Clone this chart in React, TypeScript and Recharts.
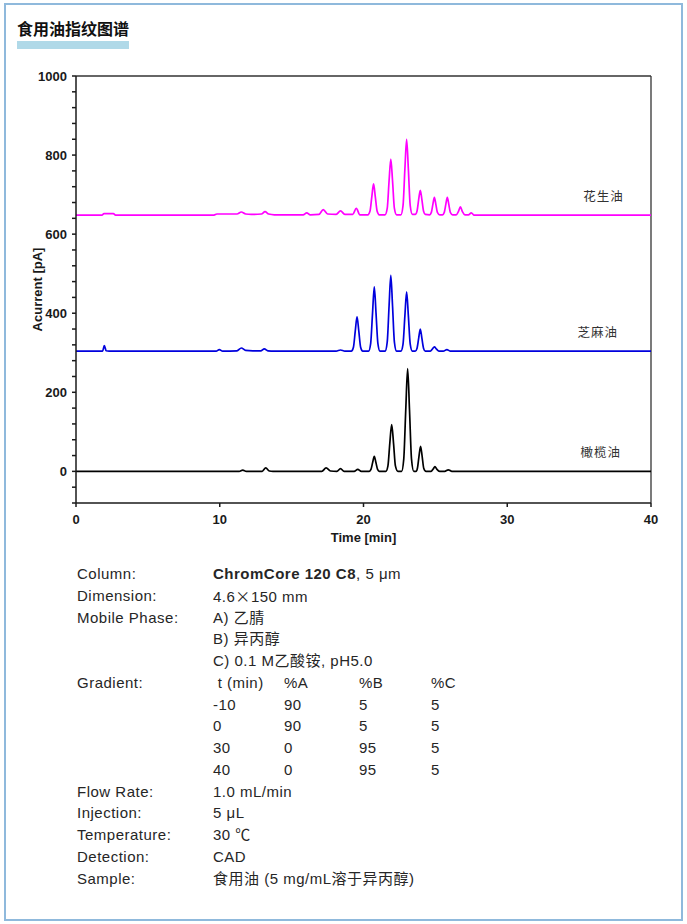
import React from 'react';
import { LineChart, Line, XAxis, YAxis, ReferenceLine, ReferenceDot } from 'recharts';

// ---- chromatogram data (time in min, signal in pA, offsets included as drawn) ----
const peanutTime = [0, 1.8, 1.95, 2.6, 2.75, 9.6, 9.8, 11.2, 11.5, 11.8, 12.2, 12.9, 13.15, 13.4, 13.8, 15.8, 16.05, 16.3, 16.9, 17.2, 17.5, 18.1, 18.4, 18.7, 19.25, 19.5, 19.75,
  20.3, 20.45, 20.58, 20.7, 20.82, 20.95, 21.1,
  21.5, 21.65, 21.78, 21.9, 22.02, 22.15, 22.3,
  22.6, 22.75, 22.88, 23.0, 23.12, 23.25, 23.4,
  23.6, 23.72, 23.84, 23.95, 24.06, 24.18, 24.3,
  24.6, 24.72, 24.83, 24.93, 25.03, 25.14, 25.3,
  25.5, 25.62, 25.73, 25.83, 25.93, 26.04, 26.2,
  26.45, 26.6, 26.74, 26.88, 27.05,
  27.3, 27.5, 27.7, 40];
const peanutSignal = [648, 648, 652, 652, 648, 648, 651, 651, 656, 651, 650, 651, 657, 651, 649, 649, 654, 649, 650, 662, 651, 650, 659, 650, 650, 665, 649,
  649, 658, 695, 727, 695, 658, 649,
  649, 665, 735, 790, 735, 665, 649,
  649, 672, 765, 840, 765, 672, 650,
  650, 658, 688, 711, 688, 658, 650,
  649, 655, 676, 693, 676, 655, 649,
  649, 655, 676, 693, 676, 655, 649,
  649, 657, 669, 657, 649,
  649, 654, 648, 648];

const sesameTime = [0, 1.85, 1.97, 2.1, 2.3, 9.75, 9.97, 10.2, 11.2, 11.5, 11.8, 12.3, 12.85, 13.1, 13.35, 13.8, 18.1, 18.4, 18.7,
  19.15, 19.3, 19.43, 19.55, 19.67, 19.8, 19.95,
  20.35, 20.5, 20.63, 20.75, 20.87, 21.0, 21.15,
  21.5, 21.65, 21.78, 21.9, 22.02, 22.15, 22.3,
  22.6, 22.75, 22.88, 23.0, 23.12, 23.25, 23.4,
  23.6, 23.72, 23.84, 23.95, 24.06, 24.18, 24.3,
  24.65, 24.8, 24.93, 25.06, 25.25,
  25.55, 25.8, 26.05, 40];
const sesameSignal = [304, 304, 318, 305, 304, 304, 308, 304, 305, 312, 306, 305, 305, 310, 305, 304, 304, 307, 304,
  304, 314, 356, 391, 356, 314, 304,
  304, 324, 401, 467, 401, 324, 304,
  304, 327, 419, 496, 419, 327, 304,
  304, 322, 394, 454, 394, 322, 304,
  304, 311, 337, 360, 337, 311, 304,
  304, 310, 315, 310, 304,
  304, 308, 304, 304];

const oliveTime = [0, 11.35, 11.6, 11.85, 12.95, 13.2, 13.45, 13.7, 17.1, 17.4, 17.7, 18.15, 18.4, 18.65, 19.35, 19.6, 19.85,
  20.4, 20.52, 20.64, 20.75, 20.86, 20.98, 21.1,
  21.55, 21.7, 21.83, 21.96, 22.09, 22.22, 22.4,
  22.65, 22.8, 22.94, 23.07, 23.2, 23.34, 23.5,
  23.65, 23.75, 23.86, 23.97, 24.08, 24.19, 24.35,
  24.7, 24.85, 24.97, 25.09, 25.3,
  25.65, 25.9, 26.15, 40];
const oliveSignal = [0, 0, 3, 0, 0, 9, 1, 0, 0, 9, 1, 0, 7, 0, 0, 5, 0,
  0, 5, 23, 38, 23, 5, 0,
  0, 14, 71, 118, 71, 14, 0,
  0, 31, 156, 260, 156, 31, 0,
  0, 8, 38, 63, 38, 8, 0,
  0, 6, 12, 6, 0,
  0, 4, 0, 0];

// series names and label anchor positions (data units)
const seriesNames = ['花生油', '芝麻油', '橄榄油'];
const seriesColors = ['#ff00ff', '#0000dd', '#000000'];
const seriesLabelTime = [36.7, 36.3, 36.5];
const seriesLabelSignal = [694, 352, 48];

// axes
const xTicks = [0, 10, 20, 30, 40];
const yMajorTicks = [0, 200, 400, 600, 800, 1000];
const yTicks = [-80, -40, 0, 40, 80, 120, 160, 200, 240, 280, 320, 360, 400, 440, 480, 520, 560, 600, 640, 680, 720, 760, 800, 840, 880, 920, 960, 1000];
const xDomain = [0, 40];
const yDomain = [-80, 1000];

// text
const pageTitle = '食用油指纹图谱';
const xTitle = 'Time [min]';
const yTitle = 'Acurrent [pA]';
const paramLabels = ['Column:', 'Dimension:', 'Mobile Phase:', '', '', 'Gradient:', '', '', '', '', 'Flow Rate:', 'Injection:', 'Temperature:', 'Detection:', 'Sample:'];
const paramValues = ['', '4.6×150 mm', 'A) 乙腈', 'B) 异丙醇', 'C) 0.1 M乙酸铵, pH5.0', '', '', '', '', '', '1.0 mL/min', '5 μL', '30 ℃', 'CAD', '食用油 (5 mg/mL溶于异丙醇)'];
const columnBold = 'ChromCore 120 C8';
const columnRest = ', 5 μm';
const gradientHeader = [' t (min)', '%A', '%B', '%C'];
const gradientRows = [
  ['-10', '90', '5', '5'],
  ['0', '90', '5', '5'],
  ['30', '0', '95', '5'],
  ['40', '0', '95', '5'],
];

const zip = (ts: number[], vs: number[]) => ts.map((t, i) => ({ t, v: vs[i] }));
const seriesData = [zip(peanutTime, peanutSignal), zip(sesameTime, sesameSignal), zip(oliveTime, oliveSignal)];

const latin = '"Liberation Sans", Arial, "Noto Sans CJK SC", sans-serif';
const cjk = '"Noto Sans CJK SC", "Liberation Sans", sans-serif';
const axisFont = { fontSize: 13, fontWeight: 700, fill: '#1a1a1a', fontFamily: latin };

const gradCols = [140, 207, 282, 354];
const valueX = 136;
const lineH = 21.75;

function renderValue(s: string): React.ReactNode {
  if (!s.includes('×')) return s;
  const parts = s.split('×');
  return (
    <span>
      {parts[0]}
      <span style={{ fontFamily: cjk }}>×</span>
      {parts[1]}
    </span>
  );
}

export default function App() {
  const rows = paramLabels.map((lab, i) => {
    let value: React.ReactNode = renderValue(paramValues[i]);
    if (i === 0) value = (<span><b>{columnBold}</b>{columnRest}</span>);
    const isGradient = i >= 5 && i <= 9;
    const gradCells = i === 5 ? gradientHeader : isGradient ? gradientRows[i - 6] : null;
    return (
      <div key={i} style={{ position: 'relative', height: lineH, lineHeight: lineH + 'px', whiteSpace: 'pre' }}>
        <span style={{ position: 'absolute', left: 0 }}>{lab}</span>
        {gradCells
          ? gradCells.map((c, j) => (
              <span key={j} style={{ position: 'absolute', left: j === 0 && i === 5 ? gradCols[0] - 4 : j === 0 ? valueX : gradCols[j] }}>{c}</span>
            ))
          : <span style={{ position: 'absolute', left: valueX }}>{value}</span>}
      </div>
    );
  });

  return (
    <div style={{ position: 'absolute', left: 0, top: 0, width: 687, height: 924, background: '#fff', overflow: 'hidden' }}>
      <div style={{ position: 'absolute', left: 4, top: 3, width: 679, height: 918, boxSizing: 'border-box', border: '2px solid #8fb9dc' }} />
      <div style={{ position: 'absolute', left: 17, top: 19, fontFamily: cjk, fontWeight: 700, fontSize: 16, lineHeight: '18px', color: '#111' }}>{pageTitle}</div>
      <div style={{ position: 'absolute', left: 17, top: 41, width: 112, height: 8, background: '#b0d9e8' }} />

      <div style={{ position: 'absolute', left: 0, top: 0 }}>
        <LineChart width={687} height={560} margin={{ top: 76, right: 36, bottom: 17, left: 30 }}>
          <XAxis
            dataKey="t"
            type="number"
            domain={xDomain}
            ticks={xTicks}
            allowDataOverflow
            stroke="#1a1a1a"
            strokeWidth={1.5}
            tickSize={4}
            tickMargin={8}
            tick={axisFont}
            height={40}
            label={{
              content: (p: any) => (
                <text x={p.viewBox.x + p.viewBox.width / 2} y={p.viewBox.y + 38.5} textAnchor="middle" style={axisFont as any} fill="#1a1a1a">{xTitle}</text>
              ),
            }}
          />
          <YAxis
            type="number"
            domain={yDomain}
            ticks={yTicks}
            allowDataOverflow
            interval={0}
            stroke="#1a1a1a"
            strokeWidth={1.5}
            tickSize={4}
            tickMargin={5}
            tick={axisFont}
            tickFormatter={(v: number) => (yMajorTicks.includes(v) ? String(v) : '')}
            width={46}
            label={{
              content: (p: any) => {
                const x = p.viewBox.x + 7;
                const y = p.viewBox.y + p.viewBox.height / 2;
                return (
                  <text x={x} y={y} transform={`rotate(-90, ${x}, ${y})`} textAnchor="middle" dominantBaseline="central" style={axisFont as any} fill="#1a1a1a">{yTitle}</text>
                );
              },
            }}
          />
          <ReferenceLine y={yDomain[1]} stroke="#333" strokeWidth={1.3} ifOverflow="visible" />
          <ReferenceLine x={xDomain[1]} stroke="#333" strokeWidth={1.3} ifOverflow="visible" />
          {seriesData.map((d, i) => (
            <Line
              key={i}
              data={d}
              dataKey="v"
              type="monotone"
              stroke={seriesColors[i]}
              strokeWidth={1.7}
              dot={false}
              activeDot={false}
              isAnimationActive={false}
            />
          ))}
          {seriesNames.map((n, i) => (
            <ReferenceDot
              key={n}
              x={seriesLabelTime[i]}
              y={seriesLabelSignal[i]}
              r={0}
              stroke="none"
              fill="none"
              label={{ value: n, position: 'center', fill: '#333', fontSize: 12.5, fontFamily: cjk, letterSpacing: 1 }}
            />
          ))}
        </LineChart>
      </div>

      <div style={{ position: 'absolute', left: 77, top: 563, width: 560, fontFamily: latin, fontSize: 15, letterSpacing: 0.5, color: '#262626' }}>
        {rows}
      </div>
    </div>
  );
}
